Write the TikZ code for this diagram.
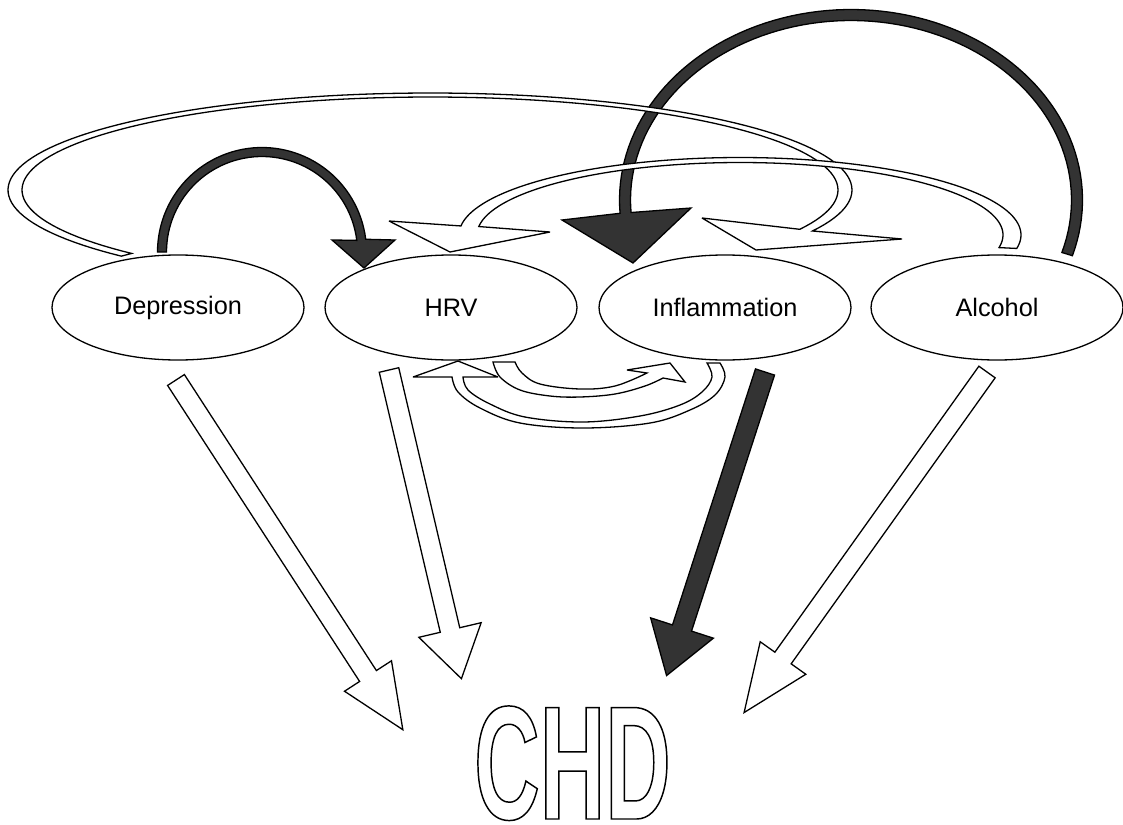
\documentclass[tikz,border=0pt]{standalone}
\usepackage{fontspec}
\setmainfont{Liberation Sans}
\newfontfamily\chdfont[FakeStretch=0.56, FakeBold=0.9]{Liberation Sans}
\usetikzlibrary{shapes.geometric,calc}
\definecolor{dk}{RGB}{51,51,51}
\newcommand{\lblfont}{\fontsize{25.3}{30}\selectfont}
\newcommand{\blockarrow}[6]{%
  \path[#6] ($(#1)!#3!90:(#2)$) -- ($(#2)!#3!-90:(#1)$) -- ($(#2)!#4!-90:(#1)$) -- ($(#2)!-#5!(#1)$) -- ($(#2)!#4!90:(#1)$) -- ($(#2)!#3!90:(#1)$) -- ($(#1)!#3!-90:(#2)$) -- cycle;}
\tikzset{
  outl/.style={draw=black, line width=1.3pt, fill=white, miter limit=4},
  darkarr/.style={draw=black, line width=1.3pt, fill=dk, miter limit=4},
  lbl/.style={ellipse, draw, line width=1.3pt, fill=white, minimum width=252pt, minimum height=105pt, inner sep=0pt, font=\lblfont},
}
\begin{document}
\begin{tikzpicture}[x=1pt,y=-1pt]
\useasboundingbox (0,0) rectangle (1123,824);
\fill[white] (0,0) rectangle (1123,824);

% nodes
\node[lbl] (dep) at (178,307.5) {Depression};
\node[lbl] (hrv) at (451,307.5) {HRV};
\node[lbl] (inf) at (725,307.5) {Inflammation};
\node[lbl] (alc) at (997,307.5) {Alcohol};
\node[font=\chdfont\bfseries\fontsize{162}{162}\selectfont, text=white, anchor=base, inner sep=0pt] (chd) at (572.5,819) {\special{pdf:code 0 G}CHD};

% straight arrows to CHD
\coordinate (d1) at (176,380); \coordinate (d2) at (368,676);
\blockarrow{d1}{d2}{10pt}{28pt}{64pt}{outl}
\coordinate (h1) at (389,370); \coordinate (h2) at (450,630);
\blockarrow{h1}{h2}{10pt}{32pt}{50pt}{outl}
\coordinate (i1) at (765,372); \coordinate (i2) at (682,628);
\blockarrow{i1}{i2}{10pt}{33pt}{50pt}{darkarr}
\coordinate (a1) at (987,372); \coordinate (a2) at (783,658);
\blockarrow{a1}{a2}{10pt}{28pt}{67pt}{outl}

% Alcohol -> Inflammation (dark big arc)
\path[darkarr] plot[domain=-17:184, samples=90, variable=\s] ({851+231.5*cos(\s)},{200-190.5*sin(\s)})
  -- (562,220) -- (633,263) -- (691,208)
  -- plot[domain=-184:17, samples=90, variable=\t] ({851+220.5*cos(\t)},{200+179.5*sin(\t)}) -- cycle;

% Depression -> Inflammation (long outlined arc)
\path[outl] plot[domain=137:385, samples=120, variable=\t] ({430+422*cos(\t)},{190+97*sin(\t)})
  -- (902,239) -- (756,250) -- (702,218)
  -- plot[domain=-385:-137, samples=120, variable=\s] ({430+408*cos(\s)},{190-93*sin(\s)}) -- cycle;

% Alcohol -> HRV (outlined arc)
\path[outl] plot[domain=-10:173.3, samples=100, variable=\s] ({740+281*cos(\s)},{235-77.5*sin(\s)})
  -- (389,221) -- (450,252) -- (550,232)
  -- plot[domain=-173.3:10, samples=100, variable=\t] ({740+263*cos(\t)},{235+72.5*sin(\t)}) -- cycle;

% Depression -> HRV (dark small arc)
\path[darkarr] plot[domain=180:353, samples=60, variable=\t] ({262+104.5*cos(\t)},{252+104.5*sin(\t)})
  -- (395,240) -- (364,268) -- (332,240)
  -- plot[domain=-353:-180, samples=60, variable=\s] ({262+95.5*cos(\s)},{252-95.5*sin(\s)}) -- cycle;

% Inflammation -> HRV (lower)
\path[outl] plot[smooth, tension=0.6] coordinates {(720,363) (725,377) (715,395) (690,410) (650,423) (583,428) (520,423) (480,408) (458,392) (452,377)}
  -- (413,377) -- (458,361) -- (498,377)
  -- plot[smooth, tension=0.6] coordinates {(463,377) (468,390) (490,404) (525,417) (583,422) (640,416) (680,405) (702,392) (712,377) (707,363)} -- cycle;

% HRV -> Inflammation (upper)
\path[outl] plot[smooth, tension=0.6] coordinates {(493,362) (500,377) (520,390) (550,396) (580,397) (615,394) (645,386) (663,378)}
  -- (685,382) -- (670,363) -- (627,370)
  -- plot[smooth, tension=0.6] coordinates {(647,373) (615,386) (580,389) (540,384) (522,373) (515,362)} -- cycle;
\end{tikzpicture}
\end{document}
